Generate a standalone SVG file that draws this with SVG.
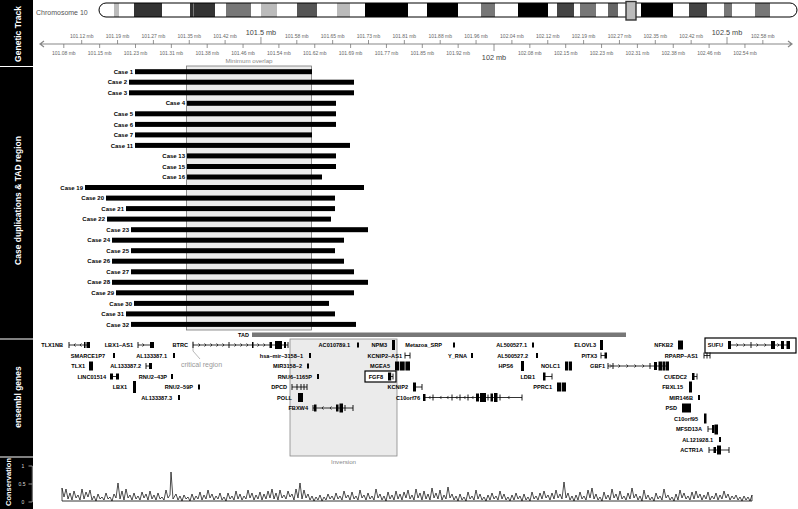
<svg xmlns="http://www.w3.org/2000/svg" xmlns:xlink="http://www.w3.org/1999/xlink" width="798" height="509" viewBox="0 0 798 509">
<style>
text{font-family:"Liberation Sans",Arial,sans-serif}
.side{fill:#fff;font-weight:bold;font-size:8.5px;text-anchor:middle}
.tl{fill:#666;font-size:5px;text-anchor:middle}
.tb{fill:#444;font-size:7.3px;text-anchor:middle}
.cl{font-weight:bold;font-size:6px;text-anchor:end;fill:#000}
.gl{font-weight:bold;font-size:5.6px;text-anchor:end;fill:#000}
.gray{fill:#888;font-size:6.2px;text-anchor:middle}
.ln{stroke:#000;stroke-width:0.8;fill:none}
.ex{fill:#000}
.bar{fill:#000}
</style>
<defs>
<path id="ar" d="M-1.5,-1.6 L0,0 L-1.5,1.6" fill="none" stroke="#000" stroke-width="0.7"/>
<path id="al" d="M1.5,-1.6 L0,0 L1.5,1.6" fill="none" stroke="#000" stroke-width="0.7"/>
<path id="tk" d="M0,-3 V3" stroke="#000" stroke-width="0.9"/>
<rect id="sb" x="-1" y="-2.5" width="2" height="5" fill="#000"/>
</defs>
<rect width="798" height="509" fill="#fff"/>

<g id="sidebar">
<rect x="0" y="0" width="33" height="509" fill="#000"/>
<path d="M0,66.5 H33 M0,339 H33 M0,457 H33" stroke="#fff" stroke-width="1.2"/>
<text class="side" transform="translate(21,34) rotate(-90)">Genetic Track</text>
<text class="side" transform="translate(21,200.5) rotate(-90)">Case duplications &amp; TAD region</text>
<text class="side" transform="translate(21,397) rotate(-90)">ensembl genes</text>
<text class="side" style="font-size:7.5px" transform="translate(11,482) rotate(-90)">Conservation</text>
<path d="M32.3,466 V502 M28.5,466 H32.3 M28.5,484 H32.3 M28.5,502 H32.3" stroke="#ccc" stroke-width="0.7" fill="none"/>
<text x="23" y="468" style="fill:#ddd;font-size:5px;text-anchor:middle">1</text>
<text x="22" y="486" style="fill:#ddd;font-size:5px;text-anchor:middle">0.5</text>
<text x="23" y="504" style="fill:#ddd;font-size:5px;text-anchor:middle">0</text>
</g>

<g id="chromosome">
<text x="36" y="15" style="fill:#555;font-size:7px">Chromosome 10</text>
<clipPath id="chrclip"><rect x="99" y="3" width="698" height="14" rx="7"/></clipPath>
<g clip-path="url(#chrclip)">
<rect x="99" y="3" width="698" height="14" fill="#fff"/>
<rect x="114" y="3" width="5" height="14" fill="#bbb"/>
<rect x="134" y="3" width="28" height="14" fill="#333"/>
<rect x="190" y="3" width="25" height="14" fill="#333"/>
<rect x="193" y="3" width="0.7" height="14" fill="#999"/>
<rect x="226" y="3" width="25" height="14" fill="#777"/>
<rect x="261" y="3" width="16" height="14" fill="#bbb"/>
<rect x="297" y="3" width="20" height="14" fill="#555"/>
<rect x="337" y="3" width="13" height="14" fill="#bbb"/>
<rect x="365" y="3" width="43" height="14" fill="#000"/>
<rect x="427" y="3" width="31" height="14" fill="#000"/>
<rect x="481" y="3" width="14" height="14" fill="#777"/>
<rect x="518" y="3" width="30" height="14" fill="#000"/>
<rect x="557" y="3" width="17" height="14" fill="#444"/>
<rect x="580" y="3" width="16" height="14" fill="#777"/>
<rect x="608" y="3" width="10" height="14" fill="#666"/>
<rect x="641" y="3" width="32" height="14" fill="#000"/>
<rect x="689" y="3" width="18" height="14" fill="#444"/>
<rect x="724" y="3" width="8" height="14" fill="#777"/>
<rect x="755" y="3" width="15" height="14" fill="#777"/>
</g>
<rect x="99" y="3" width="698" height="14" rx="7" fill="none" stroke="#000" stroke-width="1"/>
<rect x="626" y="1.5" width="10" height="18.5" fill="#bbb" stroke="#333" stroke-width="1.4"/>
</g>

<g id="axis">
<path d="M40,44 H792 M44,41 L40,44 L44,47 M788,41 L792,44 L788,47" stroke="#888" stroke-width="1.2" fill="none"/>
<path stroke="#777" stroke-width="0.8" fill="none" d="M81.7,44V40 M117.55,44V40 M153.4,44V40 M189.25,44V40 M225.1,44V40 M260.95,44V37 M296.8,44V40 M332.65,44V40 M368.5,44V40 M404.35,44V40 M440.2,44V40 M476.05,44V40 M511.9,44V40 M547.75,44V40 M583.6,44V40 M619.45,44V40 M655.3,44V40 M691.15,44V40 M727,44V37 M762.85,44V40 M63.8,44V48 M99.65,44V48 M135.5,44V48 M171.35,44V48 M207.2,44V48 M243.05,44V48 M278.9,44V48 M314.75,44V48 M350.6,44V48 M386.45,44V48 M422.3,44V48 M458.15,44V48 M494,44V51 M529.85,44V48 M565.7,44V48 M601.55,44V48 M637.4,44V48 M673.25,44V48 M709.1,44V48 M744.95,44V48"/>
<text class="tl" x="81.7" y="37.5">101.12 mb</text>
<text class="tl" x="117.55" y="37.5">101.19 mb</text>
<text class="tl" x="153.4" y="37.5">101.27 mb</text>
<text class="tl" x="189.25" y="37.5">101.35 mb</text>
<text class="tl" x="225.1" y="37.5">101.42 mb</text>
<text class="tb" x="260.95" y="35">101.5 mb</text>
<text class="tl" x="296.8" y="37.5">101.58 mb</text>
<text class="tl" x="332.65" y="37.5">101.65 mb</text>
<text class="tl" x="368.5" y="37.5">101.73 mb</text>
<text class="tl" x="404.35" y="37.5">101.81 mb</text>
<text class="tl" x="440.2" y="37.5">101.88 mb</text>
<text class="tl" x="476.05" y="37.5">101.96 mb</text>
<text class="tl" x="511.9" y="37.5">102.04 mb</text>
<text class="tl" x="547.75" y="37.5">102.12 mb</text>
<text class="tl" x="583.6" y="37.5">102.19 mb</text>
<text class="tl" x="619.45" y="37.5">102.27 mb</text>
<text class="tl" x="655.3" y="37.5">102.35 mb</text>
<text class="tl" x="691.15" y="37.5">102.42 mb</text>
<text class="tb" x="727" y="35">102.5 mb</text>
<text class="tl" x="762.85" y="37.5">102.58 mb</text>
<text class="tl" x="63.8" y="55">101.08 mb</text>
<text class="tl" x="99.65" y="55">101.15 mb</text>
<text class="tl" x="135.5" y="55">101.23 mb</text>
<text class="tl" x="171.35" y="55">101.31 mb</text>
<text class="tl" x="207.2" y="55">101.38 mb</text>
<text class="tl" x="243.05" y="55">101.46 mb</text>
<text class="tl" x="278.9" y="55">101.54 mb</text>
<text class="tl" x="314.75" y="55">101.62 mb</text>
<text class="tl" x="350.6" y="55">101.69 mb</text>
<text class="tl" x="386.45" y="55">101.77 mb</text>
<text class="tl" x="422.3" y="55">101.85 mb</text>
<text class="tl" x="458.15" y="55">101.92 mb</text>
<text class="tb" x="494" y="60">102 mb</text>
<text class="tl" x="529.85" y="55">102.08 mb</text>
<text class="tl" x="565.7" y="55">102.15 mb</text>
<text class="tl" x="601.55" y="55">102.23 mb</text>
<text class="tl" x="637.4" y="55">102.31 mb</text>
<text class="tl" x="673.25" y="55">102.38 mb</text>
<text class="tl" x="709.1" y="55">102.46 mb</text>
<text class="tl" x="744.95" y="55">102.54 mb</text>
</g>

<g id="minimum-overlap">
<rect x="186.5" y="66" width="125" height="264" fill="#ebebeb" stroke="#777" stroke-width="0.8"/>
<text class="gray" x="249" y="63">Minimum overlap</text>
</g>

<g id="cases">
<g id="case1"><text class="cl" x="133" y="73.8">Case 1</text><rect class="bar" x="135" y="69.2" width="177" height="5"/></g>
<g id="case2"><text class="cl" x="127" y="84.3">Case 2</text><rect class="bar" x="129" y="79.7" width="225" height="5"/></g>
<g id="case3"><text class="cl" x="127" y="94.9">Case 3</text><rect class="bar" x="129" y="90.3" width="225" height="5"/></g>
<g id="case4"><text class="cl" x="185" y="105.4">Case 4</text><rect class="bar" x="187" y="100.8" width="149" height="5"/></g>
<g id="case5"><text class="cl" x="133" y="115.9">Case 5</text><rect class="bar" x="135" y="111.3" width="201" height="5"/></g>
<g id="case6"><text class="cl" x="133" y="126.5">Case 6</text><rect class="bar" x="135" y="121.9" width="201" height="5"/></g>
<g id="case7"><text class="cl" x="133" y="137">Case 7</text><rect class="bar" x="135" y="132.4" width="177" height="5"/></g>
<g id="case11"><text class="cl" x="133" y="147.5">Case 11</text><rect class="bar" x="135" y="142.9" width="215" height="5"/></g>
<g id="case13"><text class="cl" x="185" y="158">Case 13</text><rect class="bar" x="187" y="153.4" width="149" height="5"/></g>
<g id="case15"><text class="cl" x="185" y="168.6">Case 15</text><rect class="bar" x="187" y="164" width="149" height="5"/></g>
<g id="case16"><text class="cl" x="185" y="179.1">Case 16</text><rect class="bar" x="187" y="174.5" width="135" height="5"/></g>
<g id="case19"><text class="cl" x="83" y="189.6">Case 19</text><rect class="bar" x="85" y="185" width="279" height="5"/></g>
<g id="case20"><text class="cl" x="104" y="200.2">Case 20</text><rect class="bar" x="106" y="195.6" width="229" height="5"/></g>
<g id="case21"><text class="cl" x="124" y="210.7">Case 21</text><rect class="bar" x="126" y="206.1" width="209" height="5"/></g>
<g id="case22"><text class="cl" x="105" y="221.2">Case 22</text><rect class="bar" x="107" y="216.6" width="224" height="5"/></g>
<g id="case23"><text class="cl" x="129" y="231.8">Case 23</text><rect class="bar" x="131" y="227.2" width="237" height="5"/></g>
<g id="case24"><text class="cl" x="110" y="242.3">Case 24</text><rect class="bar" x="112" y="237.7" width="232" height="5"/></g>
<g id="case25"><text class="cl" x="129" y="252.8">Case 25</text><rect class="bar" x="131" y="248.2" width="204" height="5"/></g>
<g id="case26"><text class="cl" x="110" y="263.3">Case 26</text><rect class="bar" x="112" y="258.7" width="232" height="5"/></g>
<g id="case27"><text class="cl" x="129" y="273.9">Case 27</text><rect class="bar" x="131" y="269.3" width="223" height="5"/></g>
<g id="case28"><text class="cl" x="110" y="284.4">Case 28</text><rect class="bar" x="112" y="279.8" width="256" height="5"/></g>
<g id="case29"><text class="cl" x="114" y="294.9">Case 29</text><rect class="bar" x="116" y="290.3" width="238" height="5"/></g>
<g id="case30"><text class="cl" x="132" y="305.5">Case 30</text><rect class="bar" x="134" y="300.9" width="195" height="5"/></g>
<g id="case31"><text class="cl" x="124" y="316">Case 31</text><rect class="bar" x="126" y="311.4" width="209" height="5"/></g>
<g id="case32"><text class="cl" x="129" y="326.5">Case 32</text><rect class="bar" x="131" y="321.9" width="225" height="5"/></g>
</g>

<g id="tad">
<rect x="252" y="332.5" width="374" height="4.5" fill="#777"/>
<text x="249" y="337.3" style="font-weight:bold;font-size:5.5px;text-anchor:end">TAD</text>
</g>

<g id="inversion">
<rect x="290" y="339" width="107" height="117" fill="#ebebeb" stroke="#888" stroke-width="0.8"/>
<text class="gray" x="343.5" y="463.5">Inversion</text>
</g>

<g id="critical-region">
<path d="M193,341 V351 L200,359" stroke="#999" stroke-width="0.7" fill="none"/>
<text x="201.5" y="367" style="fill:#999;font-size:7px;text-anchor:middle">critical region</text>
</g>

<g id="genes">
<!-- row 1 y=345 -->
<g id="g-TLX1NB"><text class="gl" x="63" y="347">TLX1NB</text><path class="ln" d="M69,345 H90"/><use href="#tk" x="69" y="345"/><use href="#al" x="74" y="345"/><use href="#al" x="80" y="345"/><rect class="ex" x="84" y="342" width="1.5" height="6"/><rect class="ex" x="86.5" y="342" width="3.5" height="6"/></g>
<g id="g-LBX1-AS1"><text class="gl" x="133" y="347">LBX1–AS1</text><path class="ln" d="M138,345 H154"/><use href="#tk" x="138" y="345"/><use href="#ar" x="144" y="345"/><rect class="ex" x="150" y="342" width="4" height="6"/></g>
<g id="g-BTRC"><text class="gl" x="188" y="347">BTRC</text><path class="ln" d="M193,345 H288"/><use href="#tk" x="193" y="345"/><use href="#ar" x="200" y="345"/><use href="#ar" x="206" y="345"/><use href="#ar" x="212" y="345"/><use href="#ar" x="218" y="345"/><use href="#ar" x="224" y="345"/><use href="#tk" x="229" y="345"/><use href="#ar" x="236" y="345"/><use href="#ar" x="242" y="345"/><use href="#ar" x="248" y="345"/><rect class="ex" x="252" y="342" width="1.5" height="6"/><use href="#ar" x="259" y="345"/><use href="#ar" x="265" y="345"/><rect class="ex" x="269.5" y="342" width="2.5" height="6"/><rect class="ex" x="275" y="341" width="7" height="8"/><rect class="ex" x="284" y="342" width="2" height="6"/><use href="#tk" x="288" y="345"/></g>
<g id="g-AC010789.1"><text class="gl" x="350" y="347">AC010789.1</text><use href="#sb" x="358" y="345"/></g>
<g id="g-NPM3"><text class="gl" x="387" y="347">NPM3</text><rect class="ex" x="392" y="340" width="3" height="10"/></g>
<g id="g-Metazoa_SRP"><text class="gl" x="442" y="347">Metazoa_SRP</text><use href="#sb" x="454" y="345"/></g>
<g id="g-AL500527.1"><text class="gl" x="527" y="347">AL500527.1</text><use href="#sb" x="533" y="345"/></g>
<g id="g-ELOVL3"><text class="gl" x="596" y="347">ELOVL3</text><rect class="ex" x="600" y="340" width="3" height="10"/></g>
<g id="g-NFKB2"><text class="gl" x="673" y="347">NFKB2</text><rect class="ex" x="678" y="340.5" width="5" height="9"/></g>
<g id="g-SUFU"><rect x="705" y="338" width="91" height="15" fill="none" stroke="#000" stroke-width="1.2"/><text class="gl" x="723" y="347">SUFU</text><path class="ln" d="M728,345 H790"/><rect class="ex" x="728" y="341" width="3" height="8"/><use href="#ar" x="738" y="345"/><use href="#ar" x="745" y="345"/><use href="#tk" x="751" y="345"/><use href="#ar" x="758" y="345"/><use href="#ar" x="766" y="345"/><rect class="ex" x="771" y="341" width="4" height="8"/><use href="#ar" x="779" y="345"/><rect class="ex" x="781" y="341" width="3" height="8"/><rect class="ex" x="786.5" y="341" width="3.5" height="8"/></g>
<!-- row 2 y=355.5 -->
<g id="g-SMARCE1P7"><text class="gl" x="105" y="357.5">SMARCE1P7</text><use href="#sb" x="114" y="355.5"/></g>
<g id="g-AL133387.1"><text class="gl" x="167" y="357.5">AL133387.1</text><use href="#sb" x="174" y="355.5"/></g>
<g id="g-hsa-mir-3158-1"><text class="gl" x="303" y="357.5">hsa–mir–3158–1</text><use href="#sb" x="310" y="355.5"/></g>
<g id="g-KCNIP2-AS1"><text class="gl" x="402" y="357.5">KCNIP2–AS1</text><path class="ln" d="M405,355.5 H410"/><use href="#tk" x="405" y="355.5"/><use href="#tk" x="410" y="355.5"/></g>
<g id="g-Y_RNA"><text class="gl" x="467" y="357.5">Y_RNA</text><use href="#sb" x="472" y="355.5"/></g>
<g id="g-AL500527.2"><text class="gl" x="528" y="357.5">AL500527.2</text><use href="#sb" x="537" y="355.5"/></g>
<g id="g-PITX3"><text class="gl" x="597" y="357.5">PITX3</text><path class="ln" d="M601,355.5 H607"/><use href="#tk" x="601" y="355.5"/><rect class="ex" x="604.5" y="352.5" width="2.5" height="6"/></g>
<g id="g-RPARP-AS1"><text class="gl" x="698" y="357.5">RPARP–AS1</text><path class="ln" d="M704,355.5 H710"/><use href="#tk" x="704" y="355.5"/><use href="#tk" x="707" y="355.5"/><use href="#tk" x="710" y="355.5"/></g>
<!-- row 3 y=366 -->
<g id="g-TLX1"><text class="gl" x="85" y="368">TLX1</text><rect class="ex" x="89" y="361.5" width="4" height="9"/></g>
<g id="g-AL133387.2"><text class="gl" x="141" y="368">AL133387.2</text><path class="ln" d="M146,366 H152"/><use href="#tk" x="146" y="366"/><rect class="ex" x="149" y="363" width="3" height="6"/></g>
<g id="g-MIR3158-2"><text class="gl" x="302" y="368">MIR3158–2</text><use href="#sb" x="308" y="366"/></g>
<g id="g-MGEA5"><text class="gl" x="390" y="368">MGEA5</text><rect class="ex" x="395" y="361.5" width="4" height="9"/><rect class="ex" x="399.7" y="361.5" width="5" height="9"/><rect class="ex" x="405.4" y="361.5" width="4.6" height="9"/></g>
<g id="g-HPS6"><text class="gl" x="513" y="368">HPS6</text><rect class="ex" x="521" y="361" width="3" height="10"/></g>
<g id="g-NOLC1"><text class="gl" x="560" y="368">NOLC1</text><rect class="ex" x="565" y="361.5" width="3" height="9"/><rect class="ex" x="568.7" y="361.5" width="3.3" height="9"/></g>
<g id="g-GBF1"><text class="gl" x="605" y="368">GBF1</text><path class="ln" d="M608,366 H669"/><use href="#tk" x="608" y="366"/><use href="#ar" x="611.5" y="366"/><use href="#tk" x="613" y="366"/><use href="#ar" x="620" y="366"/><use href="#ar" x="628" y="366"/><use href="#ar" x="636" y="366"/><use href="#ar" x="644" y="366"/><use href="#tk" x="650" y="366"/><rect class="ex" x="654" y="362" width="3" height="8"/><rect class="ex" x="658.5" y="361.5" width="3.5" height="9"/><rect class="ex" x="662.5" y="361.5" width="3" height="9"/><rect class="ex" x="666" y="361.5" width="3" height="9"/></g>
<!-- row 4 y=376.5 -->
<g id="g-LINC01514"><text class="gl" x="106" y="378.5">LINC01514</text><path class="ln" d="M110,376.5 H119"/><rect class="ex" x="110" y="373.5" width="3" height="6"/><rect class="ex" x="116" y="373.5" width="3" height="6"/></g>
<g id="g-RNU2-43P"><text class="gl" x="167" y="378.5">RNU2–43P</text><use href="#sb" x="172" y="376.5"/></g>
<g id="g-RNU6-1165P"><text class="gl" x="312" y="378.5">RNU6–1165P</text><use href="#sb" x="318" y="376.5"/></g>
<g id="g-FGF8"><rect x="365" y="371" width="31" height="11" fill="#fff" stroke="#000" stroke-width="1.2"/><text class="gl" x="383" y="378.5">FGF8</text><path class="ln" d="M388,376.5 H393"/><rect class="ex" x="388" y="372.5" width="3.2" height="8"/><use href="#tk" x="393" y="376.5"/></g>
<g id="g-LDB1"><text class="gl" x="535" y="378.5">LDB1</text><path class="ln" d="M543,376.5 H552"/><rect class="ex" x="543" y="372.5" width="2.5" height="8"/><use href="#tk" x="552" y="376.5"/></g>
<g id="g-CUEDC2"><text class="gl" x="687" y="378.5">CUEDC2</text><path class="ln" d="M692,376.5 H697"/><rect class="ex" x="692" y="373" width="2.5" height="7"/><use href="#tk" x="697" y="376.5"/></g>
<!-- row 5 y=387 -->
<g id="g-LBX1"><text class="gl" x="127" y="389">LBX1</text><rect class="ex" x="133" y="381" width="3" height="12"/></g>
<g id="g-RNU2-59P"><text class="gl" x="193" y="389">RNU2–59P</text><use href="#sb" x="199" y="387"/></g>
<g id="g-DPCD"><text class="gl" x="287" y="389">DPCD</text><path class="ln" d="M292,387 H307"/><use href="#tk" x="292" y="387"/><use href="#tk" x="297" y="387"/><use href="#tk" x="301" y="387"/><use href="#tk" x="304" y="387"/><use href="#tk" x="307" y="387"/></g>
<g id="g-KCNIP2"><text class="gl" x="408" y="389">KCNIP2</text><path class="ln" d="M413,387 H422"/><rect class="ex" x="413" y="382.5" width="3" height="9"/><use href="#tk" x="422" y="387"/></g>
<g id="g-PPRC1"><text class="gl" x="552" y="389">PPRC1</text><rect class="ex" x="557" y="382.5" width="4" height="9"/><rect class="ex" x="561.7" y="382.5" width="4.3" height="9"/></g>
<g id="g-FBXL15"><text class="gl" x="683" y="389">FBXL15</text><rect class="ex" x="689" y="381.5" width="3" height="11"/></g>
<!-- row 6 y=397.5 -->
<g id="g-AL133387.3"><text class="gl" x="172" y="399.5">AL133387.3</text><use href="#sb" x="179" y="397.5"/></g>
<g id="g-POLL"><text class="gl" x="292" y="399.5">POLL</text><rect class="ex" x="298" y="393" width="5" height="9"/></g>
<g id="g-C10orf76"><text class="gl" x="420" y="399.5">C10orf76</text><path class="ln" d="M423,397.5 H522"/><rect class="ex" x="423" y="394" width="2.5" height="7"/><use href="#al" x="429" y="397.5"/><use href="#tk" x="433" y="397.5"/><use href="#al" x="440" y="397.5"/><use href="#al" x="447" y="397.5"/><use href="#tk" x="452" y="397.5"/><use href="#al" x="456" y="397.5"/><use href="#tk" x="460" y="397.5"/><use href="#al" x="464" y="397.5"/><use href="#tk" x="468" y="397.5"/><use href="#al" x="472" y="397.5"/><rect class="ex" x="476" y="393.5" width="3" height="8"/><rect class="ex" x="480" y="393" width="6" height="9"/><use href="#tk" x="488" y="397.5"/><rect class="ex" x="490.5" y="393.5" width="2.5" height="8"/><rect class="ex" x="494" y="393" width="3.5" height="9"/><use href="#tk" x="500" y="397.5"/><use href="#al" x="508" y="397.5"/><use href="#tk" x="522" y="397.5"/></g>
<g id="g-MIR146B"><text class="gl" x="693" y="399.5">MIR146B</text><use href="#sb" x="699" y="397.5"/></g>
<!-- row 7 y=408 -->
<g id="g-FBXW4"><text class="gl" x="308" y="410">FBXW4</text><path class="ln" d="M313,408 H353"/><use href="#tk" x="313" y="408"/><rect class="ex" x="314" y="404.5" width="2.5" height="7"/><use href="#al" x="322" y="408"/><use href="#al" x="330" y="408"/><rect class="ex" x="336" y="404.5" width="2.5" height="7"/><rect class="ex" x="339.5" y="403.5" width="3.5" height="9"/><use href="#tk" x="345" y="408"/><use href="#tk" x="353" y="408"/></g>
<g id="g-PSD"><text class="gl" x="677" y="410">PSD</text><rect class="ex" x="682" y="403.5" width="9" height="9"/></g>
<!-- rows 8-11 -->
<g id="g-C10orf95"><text class="gl" x="698" y="420.5">C10orf95</text><rect class="ex" x="704" y="413.5" width="2.5" height="10"/></g>
<g id="g-MFSD13A"><text class="gl" x="702" y="431">MFSD13A</text><path class="ln" d="M708,429 H713"/><use href="#tk" x="708" y="429"/><rect class="ex" x="712" y="425" width="2.5" height="8"/><rect class="ex" x="714.5" y="424.5" width="3.5" height="10"/></g>
<g id="g-AL121928.1"><text class="gl" x="713" y="441.5">AL121928.1</text><use href="#sb" x="720" y="439.5"/></g>
<g id="g-ACTR1A"><text class="gl" x="703" y="452">ACTR1A</text><path class="ln" d="M709,450 H729"/><use href="#tk" x="709" y="450"/><rect class="ex" x="713.5" y="447" width="2.5" height="6"/><rect class="ex" x="717" y="445.5" width="4" height="9"/><use href="#tk" x="729" y="450"/></g>
</g>

<g id="conservation">
<polyline fill="none" stroke="#000" stroke-width="0.7" stroke-linejoin="round" points="62,501 62,488 64,497 66,489 68,499 70,493 72,500 74,491 76,498 78,495 80,500 82,489 84,499 86,492 88,497 90,490 92,500 94,496 96,501 98,494 100,499 102,497 104,500 106,493 108,499 110,497 112,501 114,494 116,498 118,483 120,499 122,491 124,500 126,489 128,498 130,495 132,500 134,493 136,499 138,496 140,500 142,492 144,498 146,494 148,500 150,491 152,499 154,495 156,500 158,493 160,499 162,497 164,500 166,490 168,498 170,495 171,472 173,499 176,494 178,500 180,496 182,501 184,495 186,499 188,497 190,501 192,494 194,500 196,496 198,499 200,492 202,500 204,495 206,499 208,490 210,498 212,494 214,500 216,496 218,499 220,493 222,500 224,497 226,501 228,493 230,499 232,496 234,500 236,491 238,499 240,494 242,500 244,496 246,499 248,490 250,498 252,493 254,500 256,495 258,499 260,492 262,500 264,494 266,499 268,491 270,498 272,489 274,499 276,493 278,500 280,490 282,498 284,495 286,499 288,491 290,497 292,494 294,500 296,489 298,498 300,483 302,499 304,490 306,498 308,494 310,500 312,496 314,501 316,497 318,500 320,495 322,501 324,497 326,500 328,494 330,499 332,496 334,500 336,493 338,499 340,496 342,500 344,491 346,498 348,495 350,500 352,492 354,499 356,496 358,500 360,490 362,498 364,495 366,500 368,493 370,499 372,496 374,500 376,489 378,498 380,494 382,500 384,496 386,501 388,492 390,499 392,495 394,500 396,491 398,499 400,494 402,500 404,492 406,498 408,490 410,499 412,495 414,500 416,489 418,498 420,493 422,500 424,491 426,499 428,494 430,500 432,488 434,498 436,493 438,499 440,490 442,500 444,495 446,499 448,487 450,498 452,494 454,500 456,496 458,501 460,494 462,500 464,497 466,501 468,492 470,499 472,496 474,500 476,490 478,499 480,494 482,500 484,497 486,501 488,495 490,500 492,493 494,499 496,496 498,500 500,491 502,499 504,494 506,500 508,497 510,501 512,495 514,500 516,493 518,499 520,496 522,501 524,494 526,500 528,497 530,501 532,492 534,499 536,496 538,500 540,493 542,499 544,491 546,498 548,495 550,500 552,493 554,499 556,490 558,498 560,494 562,499 564,482 566,498 568,493 570,500 572,496 574,501 576,495 578,500 580,492 582,499 584,496 586,500 588,490 590,498 592,488 594,499 596,494 598,500 600,497 602,501 604,492 606,499 608,495 610,500 612,489 614,498 616,494 618,500 620,491 622,499 624,496 626,500 628,493 630,499 632,488 634,498 636,494 638,500 640,496 642,501 644,490 646,499 648,495 650,500 652,497 654,501 656,493 658,499 660,496 662,500 664,489 666,498 668,495 670,500 672,497 674,501 676,494 678,500 680,490 682,498 684,493 686,499 688,496 690,500 692,492 694,499 696,491 698,498 700,494 702,500 704,495 706,499 708,492 710,500 712,496 714,499 716,493 718,500 720,495 722,499 724,491 726,498 728,494 730,500 732,496 734,499 736,495 738,500 740,497 742,501 744,496 746,500 748,497 750,501 752,495 752,501"/>
<path d="M62,501 H752" stroke="#000" stroke-width="0.8"/>
</g>
</svg>
